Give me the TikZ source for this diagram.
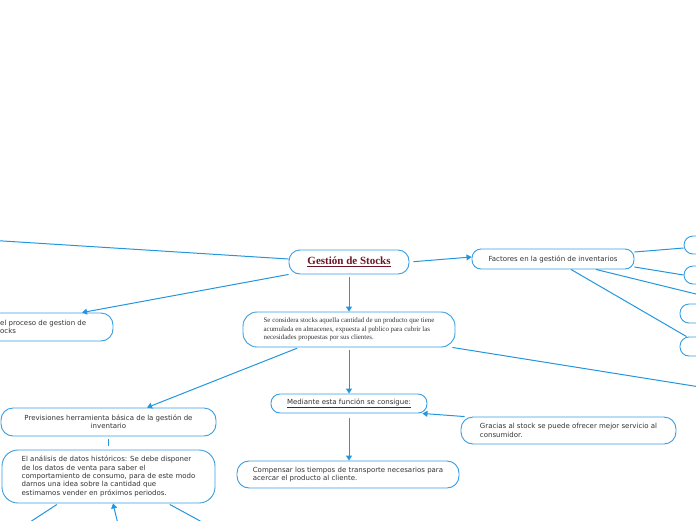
\documentclass[tikz,border=0pt]{standalone}
\usepackage{fontspec}
\setmainfont{Liberation Serif}
\newfontfamily\sansf{DejaVu Sans}
\usetikzlibrary{arrows.meta,calc}
\definecolor{lblue}{RGB}{35,150,222}
\definecolor{bblue}{RGB}{55,158,226}
\definecolor{tgray}{RGB}{51,51,51}
\definecolor{tred}{RGB}{110,20,35}
\begin{document}
\begin{tikzpicture}[x=1pt,y=-1pt,
  box/.style={draw=bblue, line width=0.9pt, rounded corners=9pt, fill=white, inner sep=0pt, text=tgray},
  sans/.style={font=\sansf\fontsize{7.0}{8.3}\selectfont},
  serif/.style={font=\fontsize{6.9}{8.2}\selectfont},
  conn/.style={draw=lblue, line width=1pt},
  arr/.style={conn, -{Triangle[length=5pt,width=6pt]}}]
\useasboundingbox (0,0) rectangle (696,520);
% nodes
\node[box, minimum width=120, minimum height=24, rounded corners=11pt,
      font=\bfseries\fontsize{11}{12}\selectfont, text=tred] (title) at (349,262) {\underline{Gestión de Stocks}};
\node[box, serif, minimum width=212, minimum height=35, rounded corners=14pt,
      align=left] (def) at (349,329.5)
  {Se considera stocks aquella cantidad de un producto que tiene\\ acumulada en almacenes, expuesta al publico para cubrir las\\ necesidades propuestas por sus clientes.};
\node[box, minimum width=173, minimum height=28, rounded corners=12pt] (left) at (26.5,327) {};
\node[sans, text=tgray, anchor=west, align=left, inner sep=0pt] (lefttext) at (0,327) {el proceso de gestion de\\ocks};
\node[box, sans, minimum width=162, minimum height=20] (fact) at (553,259) {Factores en la gestión de inventarios};
\node[box, minimum width=36, minimum height=18] (r1) at (702,245) {};
\node[box, minimum width=36, minimum height=18] (r2) at (702,275) {};
\node[box, minimum width=40, minimum height=19] (r3) at (700,313.5) {};
\node[box, minimum width=40, minimum height=19] (r4) at (700,346.5) {};
\node[box, sans, minimum width=215, minimum height=28, rounded corners=12pt,
      align=center] (prev) at (108.5,422)
  {Previsiones herramienta básica de la gestión de\\ inventario};
\node[box, sans, minimum width=213, minimum height=53, rounded corners=16pt,
      align=left] (anal) at (108.5,476.5)
  {El análisis de datos históricos: Se debe disponer\\ de los datos de venta para saber el\\ comportamiento de consumo, para de este modo\\ darnos una idea sobre la cantidad que\\ estimamos vender en próximos periodos.};
\node[box, sans, minimum width=156, minimum height=19] (medi) at (349,403.5)
  {\underline{Mediante esta función se consigue:}};
\node[box, sans, minimum width=215, minimum height=27, rounded corners=12pt,
      align=left] (grac) at (568.5,430.5)
  {Gracias al stock se puede ofrecer mejor servicio al\\ consumidor.};
\node[box, sans, minimum width=222, minimum height=27, rounded corners=12pt,
      align=left] (comp) at (348,474.5)
  {Compensar los tiempos de transporte necesarios para\\ acercar el producto al cliente.};
% free ends
\coordinate (offl) at (-5,240.5);
\coordinate (off3) at (700,295);
\coordinate (offd) at (700,387);
\coordinate (b1) at (30,522);
\coordinate (b2) at (117.5,522);
\coordinate (b3) at (202,522);
% connectors
\draw[conn] (offl) -- ([yshift=3pt]title.west);
\draw[arr] (title.south west) -- ([xshift=55.5pt]left.north);
\draw[arr, shorten <=3pt] (title.south) -- (def.north);
\draw[arr, shorten <=4pt] (title.east) -- ([yshift=2pt]fact.west);
\draw[conn] ([yshift=7pt]fact.east) -- ([yshift=-3pt]r1.west);
\draw[conn] ([yshift=-8pt]fact.east) -- (r2.west);
\draw[conn] ([xshift=43pt]fact.south) -- (off3);
\draw[conn] ([xshift=18pt]fact.south) -- ([xshift=7pt]r4.north west);
\draw[arr, shorten <=2pt] ([xshift=-50pt]def.south) -- ([xshift=38.5pt]prev.north);
\draw[arr, shorten <=3pt] (def.south) -- (medi.north);
\draw[conn] ([xshift=-3pt]def.south east) -- (offd);
\draw[arr, shorten <=5pt] (medi.south) -- ([xshift=1pt]comp.north);
\draw[arr] ([xshift=4pt]grac.north west) -- ([xshift=-5pt]medi.south east);
\draw[conn, shorten <=3pt, shorten >=4pt] (prev.south) -- (anal.north);
\draw[conn, shorten <=2pt] ([xshift=-50pt]anal.south) -- (b1);
\draw[arr] (b2) -- ([xshift=4.5pt]anal.south);
\draw[conn, shorten <=2pt] ([xshift=59.5pt]anal.south) -- (b3);
\end{tikzpicture}
\end{document}
